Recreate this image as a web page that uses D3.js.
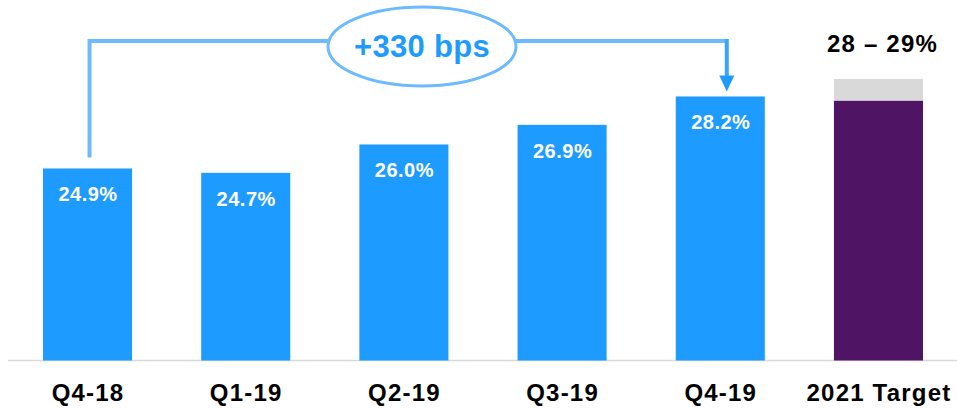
<!DOCTYPE html>
<html>
<head>
<meta charset="utf-8">
<script src="https://cdn.jsdelivr.net/npm/d3@7"></script>
<style>
  html, body { margin: 0; padding: 0; background: #fff; }
  svg { display: block; font-family: "Liberation Sans", Arial, sans-serif; }
</style>
</head>
<body>
<svg id="chart" width="957" height="408"></svg>
<script>
// Quarterly margin, with the 2021 target range
const categories = ["Q4-18", "Q1-19", "Q2-19", "Q3-19", "Q4-19", "2021 Target"];
const actuals = [24.9, 24.7, 26.0, 26.9, 28.2];
const valueLabels = ["24.9%", "24.7%", "26.0%", "26.9%", "28.2%"];
const targetLow = 28;
const targetHigh = 29;
const targetLabel = "28 – 29%";
const changeLabel = "+330 bps";

const svg = d3.select("#chart");
const baseY = 360.5;

const x = d3.scaleBand()
  .domain(categories)
  .range([43, 923])
  .paddingInner(0.437)
  .paddingOuter(0);

const y = d3.scaleLinear()
  .domain([16.1, targetHigh])
  .range([baseY, 79]);

const BLUE = "#1e9bff";
const LIGHT_BLUE = "#6dbaff";
const PURPLE = "#4f1464";
const GREY = "#d9d9d9";

// baseline
svg.append("line")
  .attr("x1", 8).attr("x2", 957)
  .attr("y1", baseY).attr("y2", baseY)
  .attr("stroke", GREY).attr("stroke-width", 1.5);

const quarters = categories.slice(0, actuals.length);

// actual bars
svg.selectAll("rect.bar")
  .data(quarters)
  .join("rect")
  .attr("class", "bar")
  .attr("x", d => x(d))
  .attr("width", x.bandwidth())
  .attr("y", (d, i) => y(actuals[i]))
  .attr("height", (d, i) => baseY - y(actuals[i]))
  .attr("fill", BLUE);

// value labels inside bars
svg.selectAll("text.val")
  .data(quarters)
  .join("text")
  .attr("class", "val")
  .attr("x", d => x(d) + x.bandwidth() / 2 + 0.5)
  .attr("y", (d, i) => y(actuals[i]) + 33)
  .attr("text-anchor", "middle")
  .attr("fill", "#fff")
  .attr("font-weight", "bold")
  .attr("font-size", 20)
  .attr("letter-spacing", 0.5)
  .text((d, i) => valueLabels[i]);

// target bar: low end in purple, range up to the high end in grey
const tCat = categories[categories.length - 1];
svg.append("rect")
  .attr("x", x(tCat)).attr("width", x.bandwidth())
  .attr("y", y(targetHigh)).attr("height", y(targetLow) - y(targetHigh))
  .attr("fill", GREY);
svg.append("rect")
  .attr("x", x(tCat)).attr("width", x.bandwidth())
  .attr("y", y(targetLow)).attr("height", baseY - y(targetLow))
  .attr("fill", PURPLE);

svg.append("text")
  .attr("x", x(tCat) + x.bandwidth() / 2 + 4)
  .attr("y", 52)
  .attr("text-anchor", "middle")
  .attr("fill", "#000")
  .attr("font-weight", "bold")
  .attr("font-size", 24)
  .attr("letter-spacing", 1.2)
  .text(targetLabel);

// category labels
svg.selectAll("text.cat")
  .data(categories)
  .join("text")
  .attr("class", "cat")
  .attr("x", d => x(d) + x.bandwidth() / 2 + 0.5)
  .attr("y", 401)
  .attr("text-anchor", "middle")
  .attr("fill", "#000")
  .attr("font-weight", "bold")
  .attr("font-size", 24)
  .attr("letter-spacing", 1.2)
  .text(d => d);

// change connector from first to last quarter
const xStart = x(categories[0]) + x.bandwidth() / 2 + 2;
const xEnd = x(quarters[quarters.length - 1]) + x.bandwidth() / 2 + 6.5;
const lineY = 41;
const ell = { cx: 422, cy: 46.5, rx: 94, ry: 39.5 };

svg.append("path")
  .attr("d", `M${xStart},${y(actuals[0]) - 11}V${lineY}H${ell.cx - ell.rx}`)
  .attr("fill", "none").attr("stroke", LIGHT_BLUE).attr("stroke-width", 4);
svg.append("path")
  .attr("d", `M${ell.cx + ell.rx},${lineY}H${xEnd}`)
  .attr("fill", "none").attr("stroke", LIGHT_BLUE).attr("stroke-width", 4);

const tipY = y(actuals[actuals.length - 1]) - 5;
svg.append("path")
  .attr("d", `M${xEnd},${lineY - 2}V${tipY - 14}`)
  .attr("fill", "none").attr("stroke", "#3aa4ff").attr("stroke-width", 4);
svg.append("path")
  .attr("d", `M${xEnd - 7.5},${tipY - 16}L${xEnd + 7.5},${tipY - 16}L${xEnd},${tipY}Z`)
  .attr("fill", BLUE);

svg.append("ellipse")
  .attr("cx", ell.cx).attr("cy", ell.cy)
  .attr("rx", ell.rx).attr("ry", ell.ry)
  .attr("fill", "#fff")
  .attr("stroke", LIGHT_BLUE).attr("stroke-width", 3);

svg.append("text")
  .attr("x", ell.cx).attr("y", 57)
  .attr("text-anchor", "middle")
  .attr("fill", BLUE)
  .attr("font-weight", "bold")
  .attr("font-size", 31)
  .attr("letter-spacing", 0.3)
  .text(changeLabel);
</script>
</body>
</html>
